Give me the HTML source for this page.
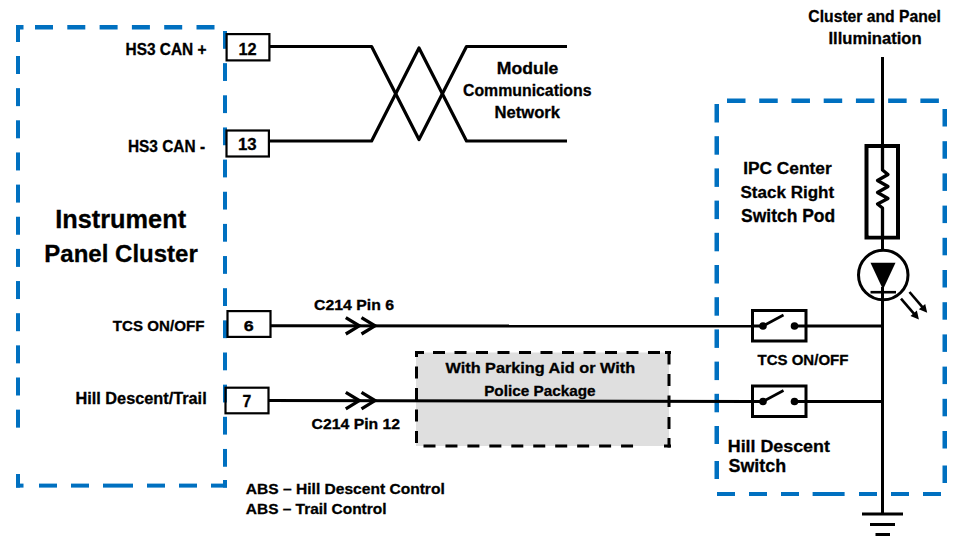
<!DOCTYPE html>
<html><head><meta charset="utf-8"><title>Wiring</title>
<style>html,body{margin:0;padding:0;background:#fff;width:980px;height:551px;overflow:hidden}svg{display:block}</style>
</head><body>
<svg width="980" height="551" viewBox="0 0 980 551">
<g fill="#0070C0"><rect x="16" y="25" width="7.50" height="4.50"/><rect x="35.0" y="25" width="18.00" height="4.50"/><rect x="67.3" y="25" width="18.00" height="4.50"/><rect x="99.6" y="25" width="18.00" height="4.50"/><rect x="131.89999999999998" y="25" width="18.00" height="4.50"/><rect x="164.2" y="25" width="18.00" height="4.50"/><rect x="196.5" y="25" width="18.00" height="4.50"/><rect x="16" y="25" width="4.00" height="17.00"/><rect x="16" y="56.0" width="4.00" height="18.00"/><rect x="16" y="88.15" width="4.00" height="18.00"/><rect x="16" y="120.3" width="4.00" height="18.00"/><rect x="16" y="152.45" width="4.00" height="18.00"/><rect x="16" y="184.6" width="4.00" height="18.00"/><rect x="16" y="216.75" width="4.00" height="18.00"/><rect x="16" y="248.89999999999998" width="4.00" height="18.00"/><rect x="16" y="281.04999999999995" width="4.00" height="18.00"/><rect x="16" y="313.2" width="4.00" height="18.00"/><rect x="16" y="345.34999999999997" width="4.00" height="18.00"/><rect x="16" y="377.5" width="4.00" height="18.00"/><rect x="16" y="409.65" width="4.00" height="18.00"/><rect x="16" y="474" width="4.00" height="13.60"/><rect x="223" y="31.0" width="4.00" height="17.80"/><rect x="223" y="63.15" width="4.00" height="17.80"/><rect x="223" y="95.3" width="4.00" height="17.80"/><rect x="223" y="127.44999999999999" width="4.00" height="17.80"/><rect x="223" y="159.6" width="4.00" height="17.80"/><rect x="223" y="191.75" width="4.00" height="17.80"/><rect x="223" y="223.89999999999998" width="4.00" height="17.80"/><rect x="223" y="256.04999999999995" width="4.00" height="17.80"/><rect x="223" y="288.2" width="4.00" height="17.80"/><rect x="223" y="320.34999999999997" width="4.00" height="17.80"/><rect x="223" y="352.5" width="4.00" height="17.80"/><rect x="223" y="384.65" width="4.00" height="17.80"/><rect x="223" y="416.79999999999995" width="4.00" height="17.80"/><rect x="223" y="448.95" width="4.00" height="17.80"/><rect x="223" y="480" width="4.00" height="7.60"/><rect x="16" y="483.6" width="7.50" height="4.00"/><rect x="39" y="483.6" width="18.00" height="4.00"/><rect x="71" y="483.6" width="18.00" height="4.00"/><rect x="103" y="483.6" width="30.00" height="4.00"/><rect x="147" y="483.6" width="18.00" height="4.00"/><rect x="179" y="483.6" width="18.00" height="4.00"/><rect x="211" y="483.6" width="16.00" height="4.00"/><rect x="727.0" y="98.5" width="18.50" height="4.50"/><rect x="759.23" y="98.5" width="18.50" height="4.50"/><rect x="791.46" y="98.5" width="18.50" height="4.50"/><rect x="823.69" y="98.5" width="18.50" height="4.50"/><rect x="855.92" y="98.5" width="18.50" height="4.50"/><rect x="888.15" y="98.5" width="18.50" height="4.50"/><rect x="920.38" y="98.5" width="18.50" height="4.50"/><rect x="714.5" y="104.0" width="4.50" height="18.50"/><rect x="714.5" y="136.2" width="4.50" height="18.50"/><rect x="714.5" y="168.4" width="4.50" height="18.50"/><rect x="714.5" y="200.60000000000002" width="4.50" height="18.50"/><rect x="714.5" y="232.8" width="4.50" height="18.50"/><rect x="714.5" y="265.0" width="4.50" height="18.50"/><rect x="714.5" y="297.20000000000005" width="4.50" height="18.50"/><rect x="714.5" y="329.40000000000003" width="4.50" height="18.50"/><rect x="714.5" y="361.6" width="4.50" height="18.50"/><rect x="714.5" y="393.8" width="4.50" height="18.50"/><rect x="714.5" y="426" width="4.50" height="18.00"/><rect x="714.5" y="461" width="4.50" height="18.00"/><rect x="942.5" y="109.0" width="4.50" height="17.50"/><rect x="942.5" y="141.2" width="4.50" height="17.50"/><rect x="942.5" y="173.4" width="4.50" height="17.50"/><rect x="942.5" y="205.60000000000002" width="4.50" height="17.50"/><rect x="942.5" y="237.8" width="4.50" height="17.50"/><rect x="942.5" y="270.0" width="4.50" height="17.50"/><rect x="942.5" y="302.20000000000005" width="4.50" height="17.50"/><rect x="942.5" y="334.40000000000003" width="4.50" height="17.50"/><rect x="942.5" y="366.6" width="4.50" height="17.50"/><rect x="942.5" y="398.8" width="4.50" height="17.50"/><rect x="942.5" y="431.0" width="4.50" height="17.50"/><rect x="942.5" y="465.5" width="4.50" height="17.50"/><rect x="717" y="492" width="18.00" height="4.00"/><rect x="749" y="492" width="18.00" height="4.00"/><rect x="781" y="492" width="18.00" height="4.00"/><rect x="812.6" y="492" width="32.00" height="4.00"/><rect x="859" y="492" width="18.00" height="4.00"/><rect x="891" y="492" width="18.00" height="4.00"/><rect x="923" y="492" width="18.00" height="4.00"/></g><rect x="416" y="352.5" width="253" height="93.5" fill="#DFDFDF"/><g fill="#000"><rect x="415" y="351" width="9.00" height="3.00"/><rect x="433.0" y="351" width="12.00" height="3.00"/><rect x="454.5" y="351" width="12.00" height="3.00"/><rect x="476.0" y="351" width="12.00" height="3.00"/><rect x="497.5" y="351" width="12.00" height="3.00"/><rect x="519.0" y="351" width="12.00" height="3.00"/><rect x="540.5" y="351" width="12.00" height="3.00"/><rect x="562.0" y="351" width="12.00" height="3.00"/><rect x="583.5" y="351" width="12.00" height="3.00"/><rect x="605.0" y="351" width="12.00" height="3.00"/><rect x="626.5" y="351" width="12.00" height="3.00"/><rect x="648.0" y="351" width="12.00" height="3.00"/><rect x="665" y="351" width="6.00" height="3.00"/><rect x="415" y="351" width="3.00" height="6.00"/><rect x="415" y="366.5" width="3.00" height="12.00"/><rect x="415" y="388" width="3.00" height="12.00"/><rect x="415" y="409.5" width="3.00" height="12.00"/><rect x="415" y="431" width="3.00" height="12.00"/><rect x="667.5" y="351" width="3.00" height="13.50"/><rect x="667.5" y="374" width="3.00" height="12.00"/><rect x="667.5" y="395.5" width="3.00" height="11.50"/><rect x="667.5" y="417" width="3.00" height="12.00"/><rect x="667.5" y="438" width="3.00" height="9.50"/><rect x="423.5" y="444.5" width="12.00" height="3.00"/><rect x="445.45" y="444.5" width="12.00" height="3.00"/><rect x="467.4" y="444.5" width="12.00" height="3.00"/><rect x="489.35" y="444.5" width="12.00" height="3.00"/><rect x="511.3" y="444.5" width="12.00" height="3.00"/><rect x="533.25" y="444.5" width="12.00" height="3.00"/><rect x="555.2" y="444.5" width="12.00" height="3.00"/><rect x="577.15" y="444.5" width="12.00" height="3.00"/><rect x="599.1" y="444.5" width="12.00" height="3.00"/><rect x="621.05" y="444.5" width="12.00" height="3.00"/><rect x="664" y="444.5" width="7.00" height="3.00"/></g><rect x="226.60" y="34.10" width="42.80" height="26.30" stroke="#000" fill="none" stroke-width="2.2"/><rect x="226.50" y="130.50" width="42.40" height="26.00" stroke="#000" fill="none" stroke-width="2.2"/><rect x="227.50" y="311.10" width="43.00" height="25.80" stroke="#000" fill="none" stroke-width="2.2"/><rect x="225.50" y="387.70" width="43.00" height="25.60" stroke="#000" fill="none" stroke-width="2.2"/><polyline points="270,46.5 371.6,46.5 419,139.5 466.5,46.5 567,46.5" stroke="#000" fill="none" stroke-width="3.2" stroke-linejoin="round"/><polyline points="270,141 371.6,141 419,48 466.5,141 567,141" stroke="#000" fill="none" stroke-width="3.2" stroke-linejoin="round"/><line x1="271" y1="325.8" x2="751" y2="326" stroke="#000" fill="none" stroke-width="3"/><line x1="269" y1="400.5" x2="751" y2="401.5" stroke="#000" fill="none" stroke-width="3"/><polyline points="345.8,317.6 359.3,325.8 345.8,334.0" stroke="#000" fill="none" stroke-width="3.3" stroke-linejoin="miter"/><polyline points="361.5,317.6 375,325.8 361.5,334.0" stroke="#000" fill="none" stroke-width="3.3" stroke-linejoin="miter"/><polyline points="345.8,392.40000000000003 359.3,400.6 345.8,408.8" stroke="#000" fill="none" stroke-width="3.3" stroke-linejoin="miter"/><polyline points="361.5,392.40000000000003 375,400.6 361.5,408.8" stroke="#000" fill="none" stroke-width="3.3" stroke-linejoin="miter"/><line x1="807" y1="326" x2="882.5" y2="326" stroke="#000" fill="none" stroke-width="3"/><line x1="807" y1="401.5" x2="882.5" y2="401.5" stroke="#000" fill="none" stroke-width="3"/><rect x="752.5" y="310.5" width="53.5" height="30.5" stroke="#000" fill="none" stroke-width="3"/><line x1="752.5" y1="326" x2="763" y2="326" stroke="#000" fill="none" stroke-width="3"/><line x1="794.5" y1="326" x2="806" y2="326" stroke="#000" fill="none" stroke-width="3"/><circle cx="763" cy="326" r="3.8" fill="#000"/><circle cx="794.5" cy="326" r="3.8" fill="#000"/><line x1="763" y1="326" x2="783.5" y2="315" stroke="#000" fill="none" stroke-width="2.6"/><rect x="752.5" y="386.0" width="53.5" height="30.5" stroke="#000" fill="none" stroke-width="3"/><line x1="752.5" y1="401.5" x2="763" y2="401.5" stroke="#000" fill="none" stroke-width="3"/><line x1="794.5" y1="401.5" x2="806" y2="401.5" stroke="#000" fill="none" stroke-width="3"/><circle cx="763" cy="401.5" r="3.8" fill="#000"/><circle cx="794.5" cy="401.5" r="3.8" fill="#000"/><line x1="763" y1="401.5" x2="783.5" y2="390.5" stroke="#000" fill="none" stroke-width="2.6"/><line x1="882.5" y1="57" x2="882.5" y2="249" stroke="#000" fill="none" stroke-width="3"/><line x1="882.5" y1="287" x2="882.5" y2="514" stroke="#000" fill="none" stroke-width="3"/><rect x="866.5" y="146" width="31.5" height="91.5" stroke="#000" fill="none" stroke-width="4"/><rect x="869" y="148.5" width="27" height="87" fill="#fff"/><polyline points="882.5,148 882.5,170 888,174.5 877.5,180.5 888,186.5 877.5,192.5 888,198.5 877.5,204 882.5,208 882.5,236" stroke="#000" fill="none" stroke-width="3.3" stroke-linejoin="round"/><circle cx="883.25" cy="275" r="24.75" fill="#fff" stroke="#000" stroke-width="3"/><polygon points="870.5,262.8 895.5,262.8 883,289.5" fill="#000"/><line x1="870.5" y1="292.2" x2="896" y2="292.2" stroke="#000" fill="none" stroke-width="2.6"/><line x1="882.5" y1="287" x2="882.5" y2="301" stroke="#000" fill="none" stroke-width="3"/><line x1="909.5" y1="292" x2="922.65" y2="307.38" stroke="#000" fill="none" stroke-width="2.6"/><polygon points="927.2,312.7 918.81,309.35 925.19,303.89" fill="#000"/><line x1="901" y1="298.6" x2="914.33" y2="314.09" stroke="#000" fill="none" stroke-width="2.6"/><polygon points="918.9,319.4 910.50,316.08 916.87,310.60" fill="#000"/><rect x="862" y="512.5" width="41" height="3" fill="#000"/><rect x="870" y="523" width="25" height="3" fill="#000"/><rect x="875.5" y="533" width="14.5" height="3" fill="#000"/><g font-family="Liberation Sans, sans-serif" font-weight="bold" fill="#000" stroke="#000" stroke-width="0.3"><text transform="translate(126.60,54.60) scale(0.9830,1)" x="-1.10" y="0" font-size="15.71">HS3 CAN +</text><text transform="translate(129.00,152.40) scale(0.9468,1)" x="-1.14" y="0" font-size="16.29">HS3 CAN -</text><text transform="translate(239.50,55.00) scale(0.9530,1)" x="-1.03" y="0" font-size="17.14">12</text><text transform="translate(239.00,150.00) scale(1.0711,1)" x="-0.94" y="0" font-size="15.71">13</text><text transform="translate(244.40,331.00) scale(1.2059,1)" x="-0.59" y="0" font-size="14.86">6</text><text transform="translate(243.00,407.00) scale(0.9876,1)" x="-0.64" y="0" font-size="15.94">7</text><text transform="translate(57.00,227.60) scale(0.9936,1)" x="-1.79" y="0" font-size="25.51">Instrument</text><text transform="translate(46.00,262.00) scale(0.9744,1)" x="-1.73" y="0" font-size="24.66">Panel Cluster</text><text transform="translate(113.00,331.00) scale(1.0048,1)" x="-0.15" y="0" font-size="15.07">TCS ON/OFF</text><text transform="translate(76.60,404.40) scale(1.0076,1)" x="-1.13" y="0" font-size="16.16">Hill Descent/Trail</text><text transform="translate(498.00,74.00) scale(1.0695,1)" x="-1.15" y="0" font-size="16.44">Module</text><text transform="translate(463.60,95.60) scale(0.9984,1)" x="-0.64" y="0" font-size="15.89">Communications</text><text transform="translate(495.60,117.60) scale(1.0472,1)" x="-1.11" y="0" font-size="15.89">Network</text><text transform="translate(314.70,309.70) scale(1.1001,1)" x="-0.58" y="0" font-size="14.38">C214 Pin 6</text><text transform="translate(312.20,428.50) scale(1.0975,1)" x="-0.58" y="0" font-size="14.38">C214 Pin 12</text><text transform="translate(445.50,373.30) scale(1.1001,1)" x="-0.00" y="0" font-size="14.79">With Parking Aid or With</text><text transform="translate(485.20,396.20) scale(1.0651,1)" x="-1.01" y="0" font-size="14.38">Police Package</text><text transform="translate(246.30,493.60) scale(1.0062,1)" x="-0.46" y="0" font-size="15.48">ABS – Hill Descent Control</text><text transform="translate(246.30,514.40) scale(1.0070,1)" x="-0.46" y="0" font-size="15.34">ABS – Trail Control</text><text transform="translate(809.00,21.60) scale(0.9555,1)" x="-0.66" y="0" font-size="16.44">Cluster and Panel</text><text transform="translate(829.60,43.60) scale(1.0450,1)" x="-1.11" y="0" font-size="15.89">Illumination</text><text transform="translate(744.40,173.60) scale(1.0113,1)" x="-1.20" y="0" font-size="17.14">IPC Center</text><text transform="translate(741.00,198.00) scale(1.0027,1)" x="-0.51" y="0" font-size="16.99">Stack Right</text><text transform="translate(741.60,222.00) scale(0.9808,1)" x="-0.53" y="0" font-size="17.81">Switch Pod</text><text transform="translate(757.60,364.60) scale(1.0359,1)" x="-0.15" y="0" font-size="14.52">TCS ON/OFF</text><text transform="translate(729.00,452.00) scale(1.0334,1)" x="-1.21" y="0" font-size="17.26">Hill Descent</text><text transform="translate(729.00,472.40) scale(0.9747,1)" x="-0.55" y="0" font-size="18.36">Switch</text></g>
</svg>
</body></html>
